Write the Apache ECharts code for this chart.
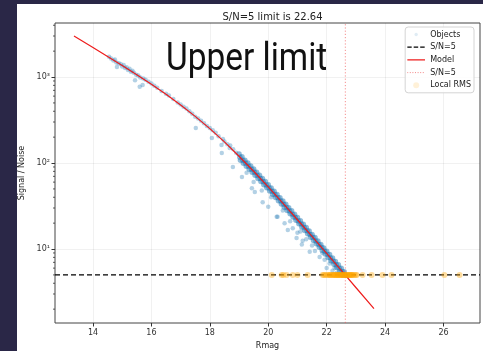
<!DOCTYPE html>
<html>
<head>
<meta charset="utf-8">
<style>
  html, body { margin: 0; padding: 0; background: #2a2747; }
  #main { width: 483px; height: 351px; }
</style>
<script src="https://cdn.jsdelivr.net/npm/echarts/dist/echarts.min.js"></script>
</head>
<body>
<div id="main"></div>
<script>
// axis ranges / ticks
var xMin = 12.7, xMax = 27.25;
var yMin = 1.38, yMax = 4250;
var xTicks = [14, 16, 18, 20, 22, 24, 26];
var yTicks = [10, 100, 1000];
var yTickLabels = ['10¹', '10²', '10³'];
var yMinorTicks = [2, 3, 4, 5, 6, 7, 8, 9, 20, 30, 40, 50, 60, 70, 80, 90,
    200, 300, 400, 500, 600, 700, 800, 900, 2000, 3000, 4000];

var snLimit = 5;
var limitMag = 22.64;

// model curve (Rmag, S/N)
var modelMag = [13.35, 14.0, 14.5, 15.0, 15.5, 16.0, 16.5, 17.0, 17.5, 18.0, 18.5, 19.0,
    19.5, 20.0, 20.5, 21.0, 21.5, 22.0, 22.5, 23.0, 23.62];
var modelSN = [3000, 2200, 1733, 1362, 1064, 824, 631, 474, 349, 251, 176, 120,
    80.3, 52.7, 34.2, 21.9, 14.0, 8.9, 5.64, 3.57, 2.03];

// objects, bright part
var brightObjects = [[14.55, 1720], [14.62, 1640], [14.7, 1560], [14.75, 1600], [14.8, 1480], [14.82, 1310],
    [14.88, 1450], [14.95, 1420], [15.0, 1330], [15.05, 1380], [15.1, 1270], [15.15, 1300], [15.2, 1210],
    [15.25, 1250], [15.3, 1150], [15.35, 1180], [15.44, 920], [15.4, 1120], [15.48, 1060], [15.55, 1040],
    [15.6, 770], [15.62, 990], [15.7, 810], [15.72, 960], [15.8, 930], [15.9, 880], [16.0, 840], [16.1, 790],
    [16.2, 750], [16.35, 690], [16.5, 640], [16.6, 610], [16.75, 555], [16.9, 505], [17.0, 480], [17.1, 450],
    [17.2, 430], [17.3, 400], [17.4, 375], [17.52, 255], [17.5, 345], [17.6, 330], [17.7, 310], [17.8, 290],
    [17.9, 270], [18.0, 255], [18.07, 195], [18.1, 240], [18.2, 225], [18.3, 205], [18.4, 162], [18.41, 131],
    [18.45, 190], [18.5, 178], [18.6, 165], [18.68, 150], [18.7, 160], [18.79, 90], [18.8, 145], [18.9, 132]];

// objects, dense band
var bandObjects = [[19.0, 127], [19.05, 108], [19.03, 117], [19.1, 118], [19.15, 99.6], [19.13, 108],
    [19.2, 108], [19.25, 91.9], [19.23, 99.2], [19.3, 100], [19.35, 84.7], [19.33, 91.5],
    [19.4, 92.2], [19.45, 78.1], [19.43, 84.4], [19.5, 85.1], [19.55, 72.1], [19.53, 77.9],
    [19.6, 78.2], [19.65, 66.3], [19.63, 71.6], [19.7, 72.0], [19.75, 61.0], [19.73, 65.9],
    [19.8, 66.1], [19.85, 56.0], [19.83, 60.5], [19.9, 60.8], [19.95, 51.5], [19.93, 55.7],
    [20.0, 55.9], [20.05, 47.3], [20.03, 51.1], [20.1, 51.2], [20.15, 43.4], [20.13, 46.9],
    [20.2, 47.0], [20.25, 39.8], [20.23, 43.0], [20.3, 43.0], [20.35, 36.5], [20.33, 39.4],
    [20.4, 39.5], [20.45, 33.5], [20.43, 36.2], [20.5, 36.3], [20.55, 30.7], [20.53, 33.2],
    [20.6, 33.2], [20.65, 28.1], [20.63, 30.4], [20.7, 30.3], [20.75, 25.7], [20.73, 27.7],
    [20.8, 27.8], [20.85, 23.5], [20.83, 25.4], [20.9, 25.4], [20.95, 21.6], [20.93, 23.3],
    [21.0, 23.2], [21.05, 19.7], [21.03, 21.2], [21.1, 21.3], [21.15, 18.0], [21.13, 19.5],
    [21.2, 19.4], [21.25, 16.4], [21.23, 17.8], [21.3, 17.8], [21.35, 15.1], [21.33, 16.3],
    [21.4, 16.2], [21.45, 13.7], [21.43, 14.8], [21.5, 14.8], [21.55, 12.6], [21.53, 13.6],
    [21.6, 13.6], [21.65, 11.5], [21.63, 12.4], [21.7, 12.4], [21.75, 10.5], [21.73, 11.3],
    [21.8, 11.3], [21.85, 9.6], [21.83, 10.4], [21.9, 10.3], [21.95, 8.75], [21.93, 9.45],
    [22.0, 9.43], [22.05, 7.99], [22.03, 8.63], [22.1, 8.62], [22.15, 7.30], [22.13, 7.89],
    [22.2, 7.87], [22.25, 6.66], [22.23, 7.20], [22.3, 7.18], [22.35, 6.08], [22.33, 6.57],
    [22.4, 6.55], [22.45, 5.55], [22.43, 5.99], [22.5, 5.98], [22.55, 5.06], [22.53, 5.47],
    [22.6, 5.46], [22.63, 5.0]];

// objects, low outliers
var lowObjects = [[19.1, 69], [19.26, 77], [19.44, 51], [19.54, 46], [19.5, 60], [19.81, 35], [19.78, 48],
    [20.0, 31], [20.1, 40], [20.29, 23.8], [20.32, 23.7], [20.5, 28], [20.56, 20], [20.67, 16.6], [20.84, 17.5],
    [20.75, 21], [20.97, 13.4], [21.0, 15.5], [21.15, 11.3], [21.18, 12.5], [21.1, 16], [21.3, 13], [21.42, 9.3],
    [21.5, 11], [21.6, 9.5], [21.76, 8.1], [21.85, 9], [21.93, 7.5], [22.0, 6.0], [22.1, 6.8], [22.27, 6.0],
    [22.35, 5.3], [22.2, 5.6], [22.45, 5.1], [22.55, 4.9], [22.7, 4.9], [22.75, 5.0]];

// local RMS magnitudes (all at S/N = 5)
var rmsMag = [20.12, 20.46, 20.52, 20.63, 20.84, 21.0, 21.35,
    21.86, 21.9, 21.95, 22.0, 22.05, 22.1, 22.12, 22.15, 22.2, 22.22, 22.25, 22.28, 22.3, 22.33,
    22.35, 22.38, 22.4, 22.42, 22.45, 22.47, 22.5, 22.52, 22.55, 22.57, 22.6, 22.62, 22.65, 22.67,
    22.7, 22.72, 22.75, 22.78, 22.8, 22.83, 22.85, 22.88, 22.9, 22.95, 23.0, 23.03,
    23.23, 23.54, 23.91, 24.22, 26.03, 26.55];

var font = 'DejaVu Sans';

function svgIcon(body) {
    var svg = '<svg xmlns="http://www.w3.org/2000/svg" width="18" height="9">' + body + '</svg>';
    return 'image://data:image/svg+xml;charset=utf-8,' + encodeURIComponent(svg);
}
function dotIcon(color, r, op) {
    return svgIcon('<circle cx="9" cy="4.5" r="' + r + '" fill="' + color + '" fill-opacity="' + op + '"/>');
}
function lineIcon(color, w, dash) {
    return svgIcon('<line x1="0" y1="4.5" x2="18" y2="4.5" stroke="' + color + '" stroke-width="' + w + '"' +
        (dash ? ' stroke-dasharray="' + dash + '"' : '') + '/>');
}

var myChart = echarts.init(document.getElementById('main'));

var option = {
    backgroundColor: '#2a2747',
    animation: false,
    textStyle: { fontFamily: font },
    title: {
        text: 'S/N=5 limit is ' + limitMag.toFixed(2),
        left: 267.5,
        textAlign: 'center',
        top: 7,
        textStyle: { fontSize: 10, fontWeight: 'normal', color: '#222', fontFamily: font }
    },
    graphic: [
        { type: 'rect', z: -10, shape: { x: 17, y: 4, width: 466, height: 347 }, style: { fill: '#fff' } },
        {
            type: 'text', z: 50, x: 166, y: 41, scaleX: 0.88,
            style: { text: 'Upper limit', fill: '#111', fontSize: 38, fontFamily: 'Roboto' }
        }
    ],
    legend: {
        orient: 'vertical',
        right: 9,
        top: 27,
        padding: [3, 3, 3, 2],
        itemGap: 3.7,
        itemWidth: 18,
        itemHeight: 9,
        backgroundColor: 'rgba(255,255,255,0.85)',
        borderColor: '#d4d4d4',
        borderWidth: 1,
        borderRadius: 3,
        textStyle: { fontSize: 8, color: '#222', fontFamily: font },
        data: [
            { name: 'Objects', icon: dotIcon('#1f77b4', 1.7, 0.4) },
            { name: 'S/N=5', icon: lineIcon('#000', 1.3, '4.5,2') },
            { name: 'Model', icon: lineIcon('#ee1c1c', 1.3) },
            { name: 'S/N=5 ', icon: lineIcon('rgb(240,120,120)', 0.9, '1,1.6') },
            { name: 'Local RMS', icon: dotIcon('#ffa500', 3, 0.4) }
        ]
    },
    grid: {
        left: 55, right: 3, top: 23, bottom: 28,
        show: true, borderColor: '#444', borderWidth: 1,
        outerBoundsMode: 'none'
    },
    xAxis: {
        type: 'value',
        min: xMin, max: xMax,
        name: 'Rmag',
        nameLocation: 'middle',
        nameGap: 16,
        nameTextStyle: { fontSize: 8, color: '#222', fontFamily: font },
        axisLine: { show: false },
        axisTick: { show: true, length: 3.5, lineStyle: { color: '#333' }, customValues: xTicks },
        axisLabel: { fontSize: 8, color: '#333', margin: 6, customValues: xTicks, fontFamily: font },
        splitLine: { show: true, lineStyle: { color: 'rgba(0,0,0,0.07)', width: 0.8 } }
    },
    yAxis: {
        type: 'log',
        logBase: 10,
        min: yMin, max: yMax,
        name: 'Signal / Noise',
        nameLocation: 'middle',
        nameGap: 22,
        nameTextStyle: { fontSize: 8, color: '#222', fontFamily: font },
        axisLine: { show: false },
        axisTick: { show: true, length: 3.5, lineStyle: { color: '#333' }, customValues: yTicks },
        axisLabel: {
            fontSize: 8, color: '#333', margin: 5, customValues: yTicks, fontFamily: font,
            formatter: function (v) { return yTickLabels[yTicks.indexOf(Math.round(v))] || ''; }
        },
        splitLine: { show: true, lineStyle: { color: 'rgba(0,0,0,0.07)', width: 0.8 } },
        minorTick: { show: false }
    },
    series: [
        {
            name: 'Objects',
            type: 'scatter',
            symbolSize: 4.5,
            itemStyle: { color: '#1f77b4', opacity: 0.34 },
            data: brightObjects.concat(lowObjects),
            z: 2
        },
        {
            name: 'Objects',
            type: 'scatter',
            symbolSize: 5.5,
            itemStyle: { color: '#1f77b4', opacity: 0.5 },
            data: bandObjects,
            z: 2
        },
        {
            name: 'S/N=5',
            type: 'line',
            symbol: 'none',
            lineStyle: { color: '#000', width: 1.3, type: [5, 3] },
            data: [[xMin, snLimit], [xMax, snLimit]],
            z: 3
        },
        {
            name: 'Model',
            type: 'line',
            symbol: 'none',
            lineStyle: { color: '#ee1c1c', width: 1.2 },
            data: modelMag.map(function (m, i) { return [m, modelSN[i]]; }),
            z: 4
        },
        {
            name: 'S/N=5 ',
            type: 'line',
            symbol: 'none',
            lineStyle: { color: 'rgba(240,90,90,0.85)', width: 0.8, type: [1.2, 2] },
            data: [[limitMag, yMin], [limitMag, yMax]],
            z: 4
        },
        {
            name: 'Local RMS',
            type: 'scatter',
            symbolSize: 6,
            itemStyle: { color: '#ffa500', opacity: 0.38 },
            data: rmsMag.map(function (m) { return [m, snLimit]; }),
            z: 5
        },
        {
            // minor log ticks on the left axis
            name: 'minor',
            type: 'custom',
            clip: false,
            silent: true,
            data: yMinorTicks.map(function (v) { return [xMin, v]; }),
            renderItem: function (params, api) {
                var p = api.coord([api.value(0), api.value(1)]);
                return {
                    type: 'line',
                    shape: { x1: p[0] - 2, y1: p[1], x2: p[0], y2: p[1] },
                    style: { stroke: '#333', lineWidth: 0.8 }
                };
            },
            z: 6
        }
    ]
};

myChart.setOption(option);
</script>
</body>
</html>
